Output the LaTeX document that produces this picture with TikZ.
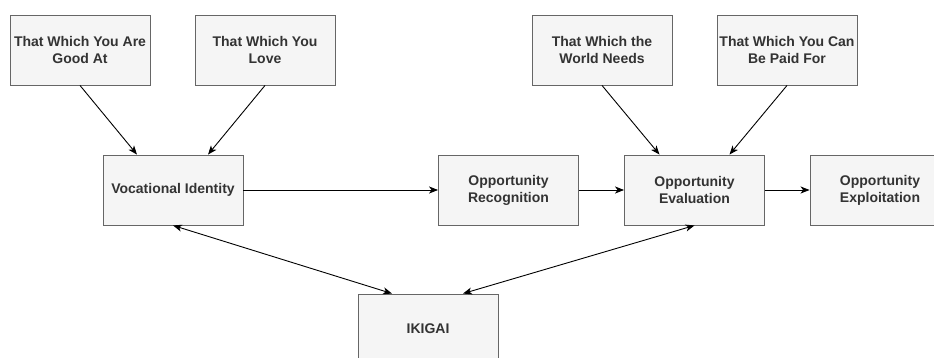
\documentclass[tikz,border=0pt]{standalone}
\usepackage{fontspec}
\setmainfont{Liberation Sans}
\usepackage{tikz}
\usetikzlibrary{arrows.meta}
\definecolor{boxfill}{HTML}{F5F5F5}
\definecolor{boxline}{HTML}{666666}
\definecolor{boxtext}{HTML}{333333}
\tikzset{
block/.style={rectangle, draw=boxline, fill=boxfill, text=boxtext, line width=0.9pt,
  minimum width=140pt, minimum height=70pt, inner sep=0pt, align=center,
  font=\fontsize{14}{17}\selectfont\bfseries},
link/.style={-{Stealth[length=9pt,width=7pt,inset=2.5pt]}, line width=0.9pt, draw=black},
twoway/.style={{Stealth[length=9pt,width=7pt,inset=2.5pt]}-{Stealth[length=9pt,width=7pt,inset=2.5pt]}, line width=0.9pt, draw=black}}

\begin{document}
\begin{tikzpicture}[x=1pt, y=-1pt]
    \useasboundingbox (0,0) rectangle (934,358);
    \clip (0,0) rectangle (934,358);

                \node[block] (good) at (80,50) {That Which You Are\\Good At};
                \node[block] (love) at (265,50) {That Which You\\Love};
                \node[block] (needs) at (602,50) {That Which the\\World Needs};
                \node[block] (paid) at (787,50) {That Which You Can\\Be Paid For};
                \node[block] (voc) at (173,190) {Vocational Identity};
                \node[block] (recog) at (508.5,190) {Opportunity\\Recognition};
                \node[block] (eval) at (694.5,190) {Opportunity\\Evaluation};
                \node[block] (expl) at (880,190) {Opportunity\\Exploitation};
                \node[block] (ikigai) at (428,329) {IKIGAI};

                \draw[link] (good.south) -- ([xshift=-36pt]voc.north);
                \draw[link] (love.south) -- ([xshift=35pt]voc.north);
                \draw[link] (needs.south) -- ([xshift=-35pt]eval.north);
                \draw[link] (paid.south) -- ([xshift=35pt]eval.north);

                \draw[link] (voc.east) -- (recog.west);
                \draw[link] (recog.east) -- (eval.west);
                \draw[link] (eval.east) -- (expl.west);

                \draw[twoway] (voc.south) -- ([xshift=-36pt]ikigai.north);
                \draw[twoway] ([xshift=35pt]ikigai.north) -- (eval.south);

            \end{tikzpicture}
\end{document}
